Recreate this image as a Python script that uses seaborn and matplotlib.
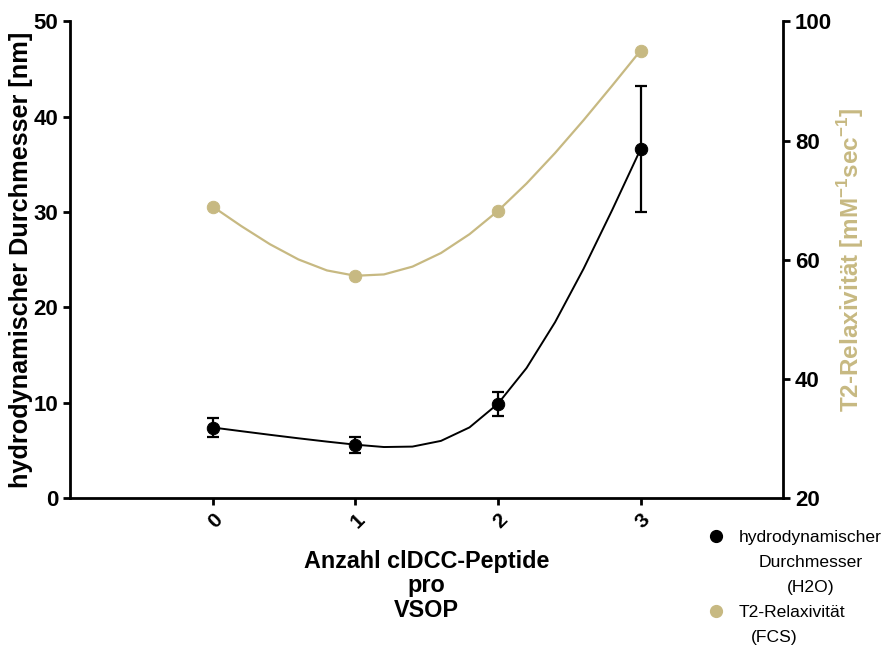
import numpy as np
import pandas as pd
import seaborn as sns
import matplotlib.pyplot as plt
from matplotlib.lines import Line2D

# data
peptides = [0, 1, 2, 3]
diameter = [7.4, 5.6, 9.9, 36.6]
diameter_err = [0.95, 0.85, 1.25, 6.6]
relaxivity = [68.9, 57.3, 68.2, 95.1]

legend_lines = [["hydrodynamischer", "Durchmesser", "(H2O)"], ["T2-Relaxivität", "(FCS)"]]

tan = "#C7B982"


def natural_spline(x, y, step=0.2):
    # natural cubic spline through the points, like the original software draws
    x = np.asarray(x, float)
    y = np.asarray(y, float)
    n = len(x)
    h = np.diff(x)
    A = np.zeros((n, n))
    b = np.zeros(n)
    A[0, 0] = A[-1, -1] = 1
    for i in range(1, n - 1):
        A[i, i - 1] = h[i - 1]
        A[i, i] = 2 * (h[i - 1] + h[i])
        A[i, i + 1] = h[i]
        b[i] = 6 * ((y[i + 1] - y[i]) / h[i] - (y[i] - y[i - 1]) / h[i - 1])
    M = np.linalg.solve(A, b)
    xs = np.arange(x[0], x[-1] + step / 2, step)
    ys = []
    for xv in xs:
        i = min(np.searchsorted(x, xv, side="right") - 1, n - 2)
        t = (xv - x[i]) / h[i]
        s = (1 - t) * y[i] + t * y[i + 1] - h[i] ** 2 * t * (1 - t) / 6 * ((2 - t) * M[i] + (1 + t) * M[i + 1])
        ys.append(s)
    return xs, np.array(ys)


sns.set_style("ticks")
plt.rcParams["font.family"] = ["Liberation Sans", "DejaVu Sans"]
plt.rcParams["mathtext.fontset"] = "custom"
plt.rcParams["mathtext.bf"] = "Liberation Sans:bold"
plt.rcParams["mathtext.rm"] = "Liberation Sans:bold"
for k in ("text.color", "axes.labelcolor", "xtick.color", "ytick.color", "axes.edgecolor"):
    plt.rcParams[k] = "black"

df = pd.DataFrame({"n": peptides, "d": diameter, "err": diameter_err, "r": relaxivity})
sx, sd = natural_spline(peptides, diameter)
_, sr = natural_spline(peptides, relaxivity)
curves = pd.DataFrame({"n": sx, "d": sd, "r": sr})

fig = plt.figure(figsize=(8.89, 6.46), dpi=100)
ax = fig.add_axes([0.079, 0.229, 0.802, 0.738])
ax2 = ax.twinx()

# diameter (left axis)
sns.lineplot(data=curves, x="n", y="d", ax=ax, color="black", lw=1.4, zorder=3)
ax.errorbar(df["n"], df["d"], yerr=df["err"], fmt="none", ecolor="black",
            elinewidth=1.6, capsize=4.5, capthick=1.6, zorder=4)
sns.scatterplot(data=df, x="n", y="d", ax=ax, color="black", s=80, edgecolor="black", zorder=5)

# relaxivity (right axis)
sns.lineplot(data=curves, x="n", y="r", ax=ax2, color=tan, lw=1.6)
sns.scatterplot(data=df, x="n", y="r", ax=ax2, color=tan, s=80, edgecolor=tan, zorder=5)

ax.set_xlim(-1, 4)
ax.set_ylim(0, 50)
ax2.set_ylim(20, 100)
ax.set_xticks(peptides)
ax.set_xticklabels([str(p) for p in peptides], rotation=45, ha="right",
                   rotation_mode="anchor", fontsize=15, fontweight="bold")
ax.set_yticks([0, 10, 20, 30, 40, 50])
ax2.set_yticks([20, 40, 60, 80, 100])
for lab in ax.get_yticklabels() + ax2.get_yticklabels():
    lab.set_fontsize(16)
    lab.set_fontweight("bold")

ax.set_xlabel("Anzahl clDCC-Peptide\npro\nVSOP", fontsize=16.8, fontweight="bold",
              linespacing=1.08, labelpad=13)
ax.set_ylabel("hydrodynamischer Durchmesser [nm]", fontsize=18.2, fontweight="bold", labelpad=0.5)
ax2.set_ylabel(r"T2-Relaxivität [mM$^{\mathbf{-1}}$sec$^{\mathbf{-1}}$]", fontsize=17.5,
               fontweight="bold", color=tan, labelpad=2)

for a in (ax, ax2):
    a.spines["top"].set_visible(False)
    for s in ("left", "bottom", "right"):
        a.spines[s].set_linewidth(2)
    a.tick_params(width=2, length=5)
ax.spines["right"].set_visible(False)
ax2.spines["left"].set_visible(False)
ax2.spines["bottom"].set_visible(False)

# legend: markers sit next to the first line, the rest of each label is centred below
handles = [
    Line2D([], [], marker="o", ls="none", color="black", markersize=8.5),
    Line2D([], [], marker="o", ls="none", color=tan, markersize=8.5),
]
leg = fig.legend(handles, [l[0] for l in legend_lines],
                 loc="upper left", bbox_to_anchor=(0.776, 0.193), frameon=False,
                 fontsize=12.6, handletextpad=0.3, labelspacing=3.4, borderpad=0)
fig.canvas.draw()
renderer = fig.canvas.get_renderer()
W, H = fig.bbox.width, fig.bbox.height
for t, lines in zip(leg.get_texts(), legend_lines):
    bb = t.get_window_extent(renderer)
    cx = (bb.x0 + bb.x1) / 2
    cy = (bb.y0 + bb.y1) / 2
    for j, line in enumerate(lines[1:], start=1):
        x = cx if len(lines) > 2 else cx - 18
        fig.text(x / W, (cy - 25 * j) / H, line, fontsize=12.6, ha="center", va="center")

fig.savefig("out.png", dpi=100)
